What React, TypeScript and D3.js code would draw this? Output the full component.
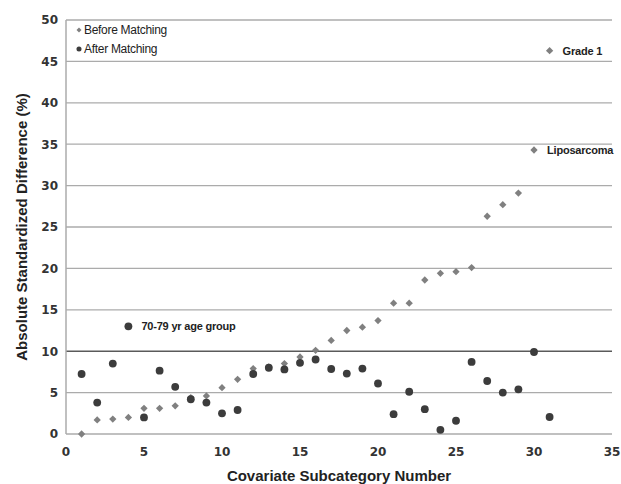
import React from "react";
import * as d3 from "d3";

const subcategories = [1,2,3,4,5,6,7,8,9,10,11,12,13,14,15,16,17,18,19,20,21,22,23,24,25,26,27,28,29,30,31];
const beforeMatching = [0,1.7,1.8,2.0,3.1,3.1,3.4,4.4,4.6,5.6,6.6,7.9,8.1,8.5,9.3,10.1,11.3,12.5,12.9,13.7,15.8,15.8,18.6,19.4,19.6,20.1,26.3,27.7,29.1,34.3,46.3];
const afterMatching = [7.25,3.8,8.5,13.0,2.0,7.65,5.7,4.2,3.8,2.5,2.9,7.25,8.0,7.8,8.6,9.0,7.85,7.3,7.9,6.1,2.4,5.1,3.0,0.5,1.6,8.7,6.4,5.0,5.4,9.9,2.05];
const xTicks = [0,5,10,15,20,25,30,35];
const yTicks = [0,5,10,15,20,25,30,35,40,45,50];
const seriesNames = ["Before Matching", "After Matching"];
const annotations = [
  { series: 0, x: 31, label: "Grade 1" },
  { series: 0, x: 30, label: "Liposarcoma" },
  { series: 1, x: 4, label: "70-79 yr age group" },
];

const W = 621, H = 484;
const M = { left: 66, right: 9, top: 20, bottom: 50 };
const BEFORE_COLOR = "#808080";
const AFTER_COLOR = "#3c3c3c";

export default function App() {
  const x = d3.scaleLinear().domain([0, 35]).range([M.left, W - M.right]);
  const y = d3.scaleLinear().domain([0, 50]).range([H - M.bottom, M.top]);
  const diamond = d3.symbol().type(d3.symbolDiamond2).size(34)();
  const circle = d3.symbol().type(d3.symbolCircle).size(48)();
  const legendDiamond = d3.symbol().type(d3.symbolDiamond2).size(16)();
  const legendCircle = d3.symbol().type(d3.symbolCircle).size(20)();
  const tickFont = "'DejaVu Sans', Verdana, sans-serif";
  const labelFont = "'Liberation Sans', Arial, sans-serif";

  return (
    <svg width={W} height={H} style={{ position: "absolute", left: 0, top: 0, background: "#fff" }}>
      {yTicks.filter(t => t > 0).map(t => (
        <line key={"g" + t} x1={x(0)} x2={x(35)} y1={y(t)} y2={y(t)}
          stroke={t === 10 ? "#5a5a5a" : "#ababab"} strokeWidth={t === 10 ? 1.6 : 1.3} />
      ))}
      <line x1={x(0)} x2={x(35)} y1={y(0)} y2={y(0)} stroke="#ababab" strokeWidth={1.5} />
      <line x1={x(0)} x2={x(0)} y1={y(0)} y2={y(50)} stroke="#ababab" strokeWidth={1.5} />
      {yTicks.map(t => (
        <text key={"yt" + t} x={58} y={y(t)} dy="0.36em" textAnchor="end"
          fontFamily={tickFont} fontWeight="bold" fontSize={12} fill="#333">{t}</text>
      ))}
      {xTicks.map(t => (
        <text key={"xt" + t} x={x(t)} y={456} textAnchor="middle"
          fontFamily={tickFont} fontWeight="bold" fontSize={12} fill="#333">{t}</text>
      ))}
      {beforeMatching.map((v, i) => (
        <path key={"b" + i} d={diamond} transform={`translate(${x(subcategories[i])},${y(v)})`} fill={BEFORE_COLOR} />
      ))}
      {afterMatching.map((v, i) => (
        <path key={"a" + i} d={circle} transform={`translate(${x(subcategories[i])},${y(v)})`} fill={AFTER_COLOR} />
      ))}
      {annotations.map((a, i) => {
        const vals = a.series === 0 ? beforeMatching : afterMatching;
        const idx = subcategories.indexOf(a.x);
        return (
          <text key={"an" + i} x={x(a.x) + 13} y={y(vals[idx]) + 4}
            fontFamily={labelFont} fontWeight="bold" fontSize={11} fill="#222" letterSpacing={-0.2}>{a.label}</text>
        );
      })}
      <g>
        <path d={legendDiamond} transform={`translate(79,30)`} fill={BEFORE_COLOR} />
        <text x={84} y={34} fontFamily={labelFont} fontSize={12} fill="#222" letterSpacing={-0.3}>{seriesNames[0]}</text>
        <path d={legendCircle} transform={`translate(79,49)`} fill={AFTER_COLOR} />
        <text x={84} y={53} fontFamily={labelFont} fontSize={12} fill="#222" letterSpacing={-0.3}>{seriesNames[1]}</text>
      </g>
      <text x={(x(0) + x(35)) / 2} y={481} textAnchor="middle"
        fontFamily={labelFont} fontWeight="bold" fontSize={15} fill="#222">Covariate Subcategory Number</text>
      <text transform={`translate(27,${(y(0) + y(50)) / 2}) rotate(-90)`} textAnchor="middle"
        fontFamily={labelFont} fontWeight="bold" fontSize={15} fill="#222">Absolute Standardized Difference (%)</text>
    </svg>
  );
}
